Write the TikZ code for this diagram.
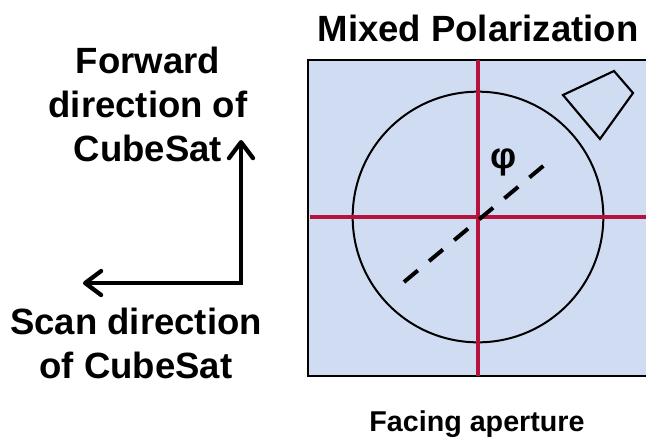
\documentclass[tikz,border=0pt]{standalone}
\usepackage{fontspec}
\setmainfont{Liberation Sans}
\usetikzlibrary{arrows.meta}
\definecolor{apfill}{RGB}{208,220,241}
\definecolor{axred}{RGB}{181,18,62}

\begin{document}
\begin{tikzpicture}[x=0.75pt, y=-0.75pt, >={Straight Barb[length=12pt,width=18pt,round]},
		big/.style={font=\bfseries\fontsize{27.4}{33}\selectfont, align=center, inner sep=0pt},
		small/.style={font=\bfseries\fontsize{21.5}{26}\selectfont, inner sep=0pt}]
		\def\cx{478} % aperture centre
		\def\cy{217}
		\useasboundingbox (0,0) rectangle (646,440);
		% aperture plate (runs off the right edge)
		\fill[apfill] (308,60) rectangle (646,376);
		\draw[line width=1.6pt] (646,60) -- (308,60) -- (308,376) -- (646,376);
		% feed outline
		\draw[line width=1.5pt] (\cx,\cy) circle (94pt);
		\draw[line width=1.6pt, line join=miter] (563,95) -- (614,71) -- (633,93) -- (600,139) -- cycle;
		% red cross
		\draw[axred, line width=2.3pt] (\cx,60) -- (\cx,376);
		\draw[axred, line width=2.3pt] (310,\cy) -- (646,\cy);
		% polarization direction
		\coordinate (polA) at (404,282);
		\coordinate (polB) at (548,162);
		\draw[line width=3pt, dash pattern=on 13.5pt off 11pt] (polA) -- (polB);
		\node[big] (phi) at (504,162) {φ};
		% CubeSat directions
		\coordinate (corner) at (241,283);
		\coordinate (fwdtip) at (241,140);
		\coordinate (scantip) at (83,283);
		\draw[<->, line width=3.2pt, line join=miter] (scantip) -- (corner) -- (fwdtip);
		\node[big] (fwd) at (148,104) {Forward\\direction of\\CubeSat};
		\node[big] (scan) at (136,343) {Scan direction\\of CubeSat};
		% titles
		\node[big] (title) at (478,28) {Mixed Polarization};
		\node[small, anchor=base] (cap) at (477,431) {Facing aperture};
	\end{tikzpicture}
\end{document}
